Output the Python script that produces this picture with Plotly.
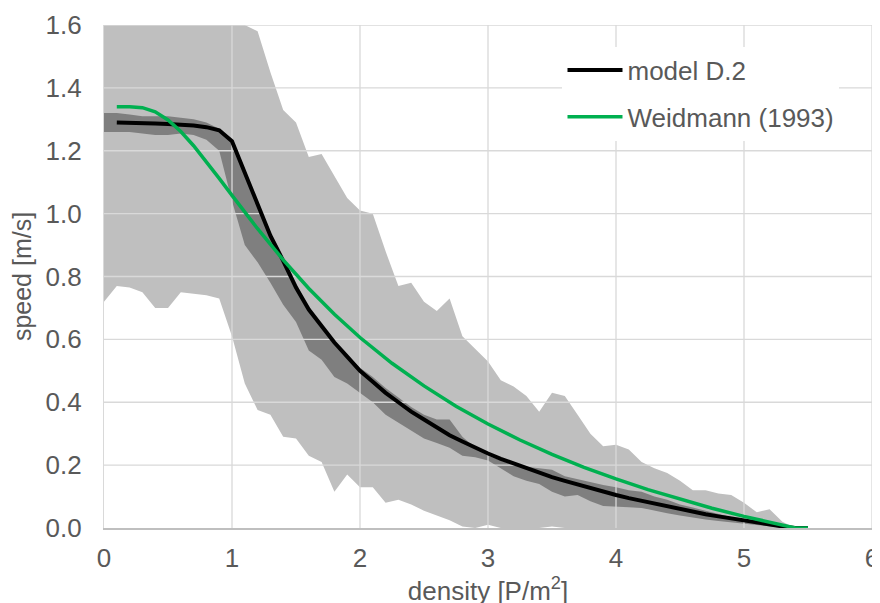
import plotly.graph_objects as go

# density grid [P/m^2]
density = [round(0.1 * i, 1) for i in range(56)]  # 0.0 .. 5.5

# light grey band (min / max of measurements)
band_max = [1.6, 1.6, 1.6, 1.6, 1.6, 1.6, 1.6, 1.6, 1.6, 1.6,
            1.6, 1.6, 1.58, 1.45, 1.33, 1.29, 1.18, 1.19, 1.12, 1.05,
            1.01, 1.0, 0.88, 0.77, 0.78, 0.72, 0.69, 0.73, 0.61, 0.57,
            0.53, 0.47, 0.45, 0.42, 0.37, 0.43, 0.42, 0.36, 0.30, 0.26,
            0.265, 0.25, 0.21, 0.19, 0.175, 0.15, 0.12, 0.12, 0.11, 0.105,
            0.08, 0.05, 0.06, 0.02, 0.0, 0.0]
band_min = [0.72, 0.77, 0.765, 0.75, 0.70, 0.70, 0.75, 0.745, 0.74, 0.73,
            0.61, 0.46, 0.375, 0.36, 0.29, 0.285, 0.23, 0.21, 0.115, 0.17,
            0.13, 0.13, 0.08, 0.09, 0.075, 0.055, 0.04, 0.025, 0.005, 0.0,
            0.01, 0.0, 0.0, 0.0, 0.0, 0.005, 0.0, 0.0, 0.0, 0.0,
            0.0, 0.0, 0.0, 0.0, 0.0, 0.0, 0.0, 0.0, 0.0, 0.0,
            0.0, 0.0, 0.0, 0.0, 0.0, 0.0]

# dark grey band (standard deviation)
std_upper = [1.32, 1.32, 1.315, 1.31, 1.31, 1.31, 1.305, 1.30, 1.29, 1.27,
             1.235, 1.14, 1.04, 0.94, 0.86, 0.775, 0.70, 0.645, 0.595, 0.55,
             0.51, 0.48, 0.445, 0.415, 0.385, 0.36, 0.345, 0.345, 0.29, 0.255,
             0.23, 0.215, 0.20, 0.195, 0.19, 0.185, 0.165, 0.155, 0.145, 0.137,
             0.13, 0.12, 0.115, 0.10, 0.09, 0.075, 0.065, 0.055, 0.045, 0.035,
             0.025, 0.018, 0.01, 0.005, 0.0, 0.0]
std_lower = [1.26, 1.26, 1.26, 1.255, 1.25, 1.25, 1.255, 1.25, 1.235, 1.20,
             1.04, 0.90, 0.845, 0.78, 0.71, 0.655, 0.565, 0.535, 0.48, 0.46,
             0.43, 0.40, 0.36, 0.335, 0.31, 0.285, 0.27, 0.255, 0.23, 0.225,
             0.215, 0.19, 0.165, 0.15, 0.14, 0.115, 0.10, 0.105, 0.085, 0.07,
             0.067, 0.066, 0.064, 0.055, 0.047, 0.04, 0.033, 0.027, 0.022, 0.018,
             0.013, 0.008, 0.004, 0.001, 0.0, 0.0]

# model D.2 (black line), from density 0.1
model_density = density[1:]
model_speed = [1.29, 1.29, 1.288, 1.287, 1.285, 1.283, 1.28, 1.275, 1.265,
               1.23, 1.13, 1.03, 0.93, 0.85, 0.765, 0.695, 0.64, 0.59, 0.545,
               0.50, 0.465, 0.43, 0.40, 0.37, 0.345, 0.32, 0.295, 0.275, 0.255,
               0.237, 0.22, 0.205, 0.19, 0.175, 0.162, 0.15, 0.138, 0.127, 0.116,
               0.105, 0.095, 0.086, 0.077, 0.068, 0.06, 0.052, 0.044, 0.037, 0.03,
               0.023, 0.016, 0.01, 0.005, 0.0, 0.0]

# Weidmann (1993) (green line)
weid_density = [0.1, 0.2, 0.3, 0.4, 0.5, 0.6, 0.7, 0.8, 0.9, 1.0, 1.2, 1.4, 1.6,
                1.8, 2.0, 2.25, 2.5, 2.75, 3.0, 3.25, 3.5, 3.75, 4.0, 4.25,
                4.5, 4.75, 5.0, 5.2, 5.4, 5.5]
weid_speed = [1.34, 1.34, 1.337, 1.324, 1.298, 1.261, 1.216, 1.165, 1.112,
              1.058, 0.952, 0.853, 0.762, 0.680, 0.606, 0.524, 0.452, 0.387,
              0.331, 0.280, 0.234, 0.193, 0.156, 0.122, 0.092, 0.063, 0.037,
              0.018, 0.0, 0.0]

x_ticks = [0, 1, 2, 3, 4, 5, 6]
y_ticks = [0.0, 0.2, 0.4, 0.6, 0.8, 1.0, 1.2, 1.4, 1.6]

GRID = "#d9d9d9"
TXT = "#595959"
FONT = "Liberation Sans, Arial, sans-serif"

fig = go.Figure()

# light band
fig.add_trace(go.Scatter(x=density, y=band_max, mode="lines", line=dict(width=0),
                         showlegend=False, hoverinfo="skip"))
fig.add_trace(go.Scatter(x=density, y=band_min, mode="lines", line=dict(width=0),
                         fill="tonexty", fillcolor="#bfbfbf", showlegend=False,
                         hoverinfo="skip"))
# dark band
fig.add_trace(go.Scatter(x=density, y=std_upper, mode="lines", line=dict(width=0),
                         showlegend=False, hoverinfo="skip"))
fig.add_trace(go.Scatter(x=density, y=std_lower, mode="lines", line=dict(width=0),
                         fill="tonexty", fillcolor="#7f7f7f", showlegend=False,
                         hoverinfo="skip"))

# gridlines drawn above the bands (as in the original)
gx, gy = [], []
for t in y_ticks[1:]:
    gx += [x_ticks[0], x_ticks[-1], None]
    gy += [t, t, None]
for t in x_ticks[1:]:
    gx += [t, t, None]
    gy += [y_ticks[0], y_ticks[-1], None]
fig.add_trace(go.Scatter(x=gx, y=gy, mode="lines", line=dict(color=GRID, width=1.3),
                         showlegend=False, hoverinfo="skip"))

fig.add_trace(go.Scatter(x=model_density, y=model_speed, mode="lines",
                         name="model D.2", legendgroup="a",
                         line=dict(color="#000000", width=4)))
fig.add_trace(go.Scatter(x=weid_density, y=weid_speed, mode="lines",
                         name="Weidmann (1993)", legendgroup="b",
                         line=dict(color="#00b050", width=3.5)))

fig.update_layout(
    width=880, height=603,
    margin=dict(l=96, r=16, t=17, b=83),
    paper_bgcolor="white", plot_bgcolor="white",
    font=dict(family=FONT, size=26, color=TXT),
    legend=dict(x=0.597, y=0.957, xanchor="left", yanchor="top",
                bgcolor="white", borderwidth=0, font=dict(size=26, color=TXT),
                traceorder="grouped", tracegroupgap=10, itemwidth=55),
    xaxis=dict(range=[0, 6], tickvals=x_ticks, showgrid=False, zeroline=False,
               showline=True, linecolor="#bfbfbf", linewidth=1.5,
               ticks="", ticklabelstandoff=6, automargin=False,
               title=dict(text="density [P/m<sup>2</sup>]", standoff=3,
                          font=dict(size=26, color=TXT))),
    yaxis=dict(range=[0, 1.6], tickvals=y_ticks, tickformat=".1f", showgrid=False,
               zeroline=False, showline=True, linecolor="#d9d9d9", linewidth=1.3,
               ticks="", ticklabelstandoff=16, automargin=False,
               title=dict(text="speed [m/s]", standoff=13,
                          font=dict(size=25, color=TXT))),
)

fig.write_html("out.html")
